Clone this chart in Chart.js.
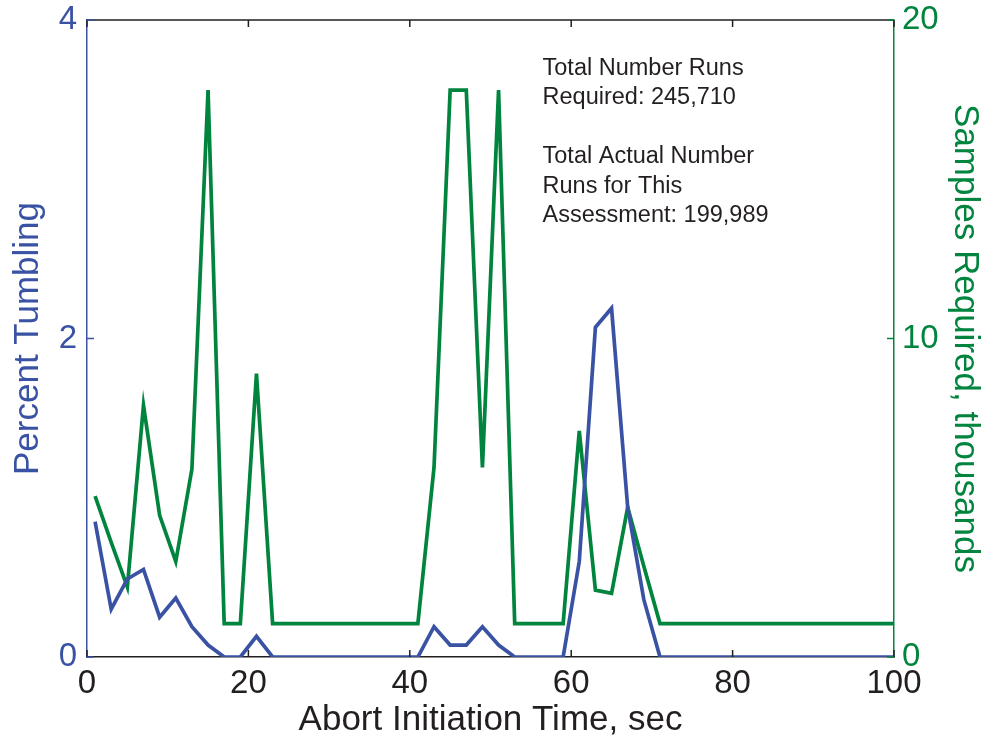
<!DOCTYPE html>
<html>
<head>
<meta charset="utf-8">
<title>Percent Tumbling and Samples Required</title>
<script src="https://cdn.jsdelivr.net/npm/chart.js@4.4.1/dist/chart.umd.min.js"></script>
<style>
  html, body { margin: 0; padding: 0; background: #ffffff; }
  #myChart { display: block; }
</style>
</head>
<body>
<canvas id="myChart" width="987" height="742"></canvas>
<script>
// Abort initiation time, sec (one sample every 2 sec)
var abortTimes = [1, 3, 5, 7, 9, 11, 13, 15, 17, 19, 21, 23, 25, 27, 29, 31, 33, 35, 37, 39,
  41, 43, 45, 47, 49, 51, 53, 55, 57, 59, 61, 63, 65, 67, 69, 71, 73, 75, 77, 79,
  81, 83, 85, 87, 89, 91, 93, 95, 97, 99, 100];

// Percent tumbling (left axis)
var percentTumbling = [0.85, 0.30, 0.49, 0.55, 0.25, 0.37, 0.19, 0.075, 0, 0, 0.13, 0, 0, 0, 0, 0, 0, 0, 0, 0,
  0, 0.19, 0.075, 0.075, 0.19, 0.075, 0, 0, 0, 0, 0.60, 2.07, 2.19, 0.94, 0.36, 0, 0, 0, 0, 0,
  0, 0, 0, 0, 0, 0, 0, 0, 0, 0, 0];

// Samples required, thousands (right axis)
var samplesRequired = [5.05, 3.6, 2.2, 7.9, 4.45, 3.0, 5.9, 17.8, 1.05, 1.05, 8.9, 1.05, 1.05, 1.05, 1.05, 1.05, 1.05, 1.05, 1.05, 1.05,
  1.05, 5.95, 17.8, 17.8, 5.95, 17.8, 1.05, 1.05, 1.05, 1.05, 7.1, 2.1, 2.0, 4.7, 2.85, 1.05, 1.05, 1.05, 1.05, 1.05,
  1.05, 1.05, 1.05, 1.05, 1.05, 1.05, 1.05, 1.05, 1.05, 1.05, 1.05];

// Tick values
var xTicks = [0, 20, 40, 60, 80, 100];
var leftTicks = [0, 2, 4];
var rightTicks = [0, 10, 20];

// Note text in the upper right of the plot
var noteLines = ['Total Number Runs', 'Required: 245,710', '', 'Total Actual Number', 'Runs for This', 'Assessment: 199,989'];

var blue = '#3a52a4';
var green = '#00843e';
var ink = '#231f20';
var family = "'Liberation Sans', Arial, Helvetica, sans-serif";

function toPoints(xs, ys) {
  return xs.map(function (t, i) { return { x: t, y: ys[i] }; });
}

// keep the plot box fixed, whatever the tick labels ask for
function fixSide(width) {
  return function (s) {
    s.width = width;
    s.paddingTop = 0;
    s.paddingBottom = 0;
  };
}

// Draws the top border, the inward tick marks and the note text
var framePlugin = {
  id: 'frame',
  afterDraw: function (chart) {
    var ctx = chart.ctx;
    var a = chart.chartArea;
    var x = chart.scales.x, y = chart.scales.y, y1 = chart.scales.y1;
    var len = 7;
    ctx.save();
    ctx.lineWidth = 1.5;

    ctx.strokeStyle = ink;
    ctx.beginPath();
    ctx.moveTo(a.left, a.top);
    ctx.lineTo(a.right, a.top);
    xTicks.forEach(function (v) {
      var px = x.getPixelForValue(v);
      ctx.moveTo(px, a.bottom);
      ctx.lineTo(px, a.bottom - len);
      ctx.moveTo(px, a.top);
      ctx.lineTo(px, a.top + len);
    });
    ctx.stroke();

    ctx.strokeStyle = blue;
    ctx.beginPath();
    leftTicks.forEach(function (v) {
      var py = y.getPixelForValue(v);
      ctx.moveTo(a.left, py);
      ctx.lineTo(a.left + len, py);
    });
    ctx.stroke();

    ctx.strokeStyle = green;
    ctx.beginPath();
    rightTicks.forEach(function (v) {
      var py = y1.getPixelForValue(v);
      ctx.moveTo(a.right, py);
      ctx.lineTo(a.right - len, py);
    });
    ctx.stroke();

    // note text
    ctx.fillStyle = ink;
    ctx.font = '23.5px ' + family;
    ctx.textAlign = 'left';
    ctx.textBaseline = 'alphabetic';
    var tx = x.getPixelForValue(56.45);
    var ty = a.top + 55;
    noteLines.forEach(function (line, i) {
      if (line) ctx.fillText(line, tx, ty + i * 29.4);
    });
    ctx.restore();
  }
};

var ctx = document.getElementById('myChart').getContext('2d');

var myChart = new Chart(ctx, {
  type: 'line',
  data: {
    datasets: [
      {
        label: 'Percent Tumbling',
        data: toPoints(abortTimes, percentTumbling),
        yAxisID: 'y',
        borderColor: blue,
        borderWidth: 3.7,
        pointRadius: 0,
        tension: 0,
        order: 0,
      },
      {
        label: 'Samples Required, thousands',
        data: toPoints(abortTimes, samplesRequired),
        yAxisID: 'y1',
        borderColor: green,
        borderWidth: 3.7,
        pointRadius: 0,
        tension: 0,
        order: 1,
      },
    ],
  },
  options: {
    responsive: false,
    animation: false,
    devicePixelRatio: 1,
    layout: { padding: { top: 20, left: 0, right: 0, bottom: 0 } },
    plugins: {
      legend: { display: false },
      tooltip: { enabled: false },
    },
    scales: {
      x: {
        type: 'linear',
        position: 'bottom',
        min: 0,
        max: 100,
        afterFit: function (s) { s.height = 85; },
        grid: { display: false, drawTicks: false },
        border: { color: ink, width: 1.5 },
        ticks: {
          stepSize: 20,
          maxRotation: 0,
          padding: 7,
          color: ink,
          font: { family: family, size: 33 },
        },
        title: {
          display: true,
          text: 'Abort Initiation Time, sec',
          color: ink,
          font: { family: family, size: 35 },
          padding: { top: 0, bottom: 1 },
        },
      },
      y: {
        position: 'left',
        min: 0,
        max: 4,
        afterFit: fixSide(87),
        grid: { display: false, drawTicks: false },
        border: { color: blue, width: 1.5 },
        ticks: {
          stepSize: 2,
          padding: 10,
          color: blue,
          font: { family: family, size: 33 },
        },
        title: {
          display: true,
          text: 'Percent Tumbling',
          color: blue,
          font: { family: family, size: 35 },
          padding: { top: 7, bottom: 0 },
        },
      },
      y1: {
        position: 'right',
        min: 0,
        max: 20,
        afterFit: fixSide(93),
        grid: { display: false, drawTicks: false },
        border: { color: green, width: 1.5 },
        ticks: {
          stepSize: 10,
          padding: 8,
          color: green,
          font: { family: family, size: 33 },
        },
        title: {
          display: true,
          text: 'Samples Required, thousands',
          color: green,
          font: { family: family, size: 35 },
          padding: { top: 1, bottom: 0 },
        },
      },
    },
  },
  plugins: [framePlugin],
});
</script>
</body>
</html>
